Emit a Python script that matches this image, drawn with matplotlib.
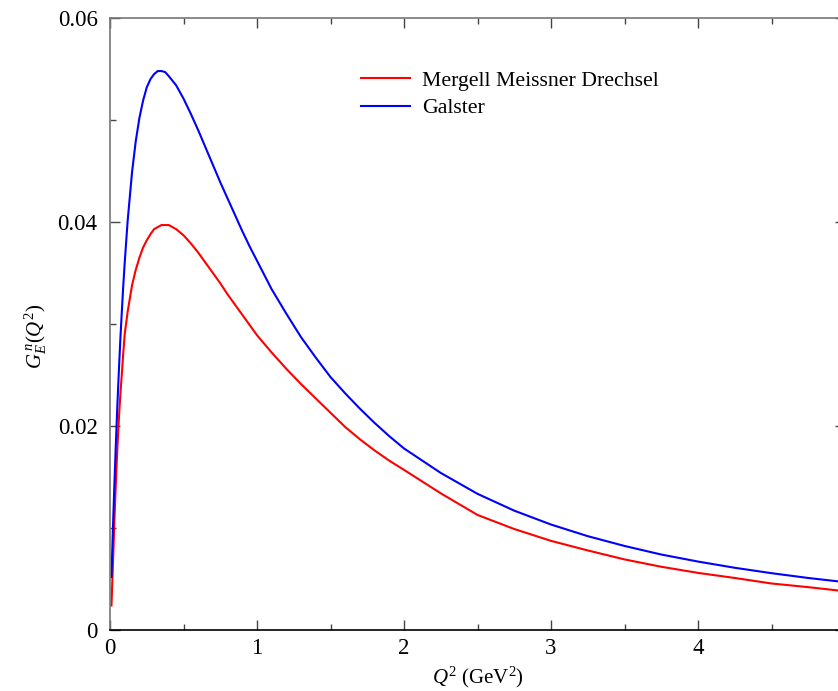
"""Neutron electric form factor G_E^n(Q^2): MMD vs Galster parametrisation."""
import matplotlib
matplotlib.use("Agg")
import matplotlib.pyplot as plt
from matplotlib.ticker import MultipleLocator

plt.rcParams["font.family"] = ["Liberation Serif", "DejaVu Serif"]
plt.rcParams["mathtext.fontset"] = "custom"
plt.rcParams["mathtext.rm"] = "Liberation Serif"
plt.rcParams["mathtext.it"] = "Liberation Serif:italic"

# values
q2 = [0.01, 0.02, 0.03, 0.04, 0.05, 0.06, 0.07, 0.08, 0.09, 0.1, 0.12,
      0.15, 0.175, 0.2, 0.225, 0.25, 0.275, 0.3, 0.325, 0.35, 0.375, 0.4,
      0.45, 0.5, 0.55, 0.6, 0.65, 0.7, 0.75, 0.8, 0.85, 0.9, 0.95, 1.0,
      1.1, 1.2, 1.3, 1.4, 1.5, 1.6, 1.7, 1.8, 1.9, 2.0, 2.25, 2.5, 2.75,
      3.0, 3.25, 3.5, 3.75, 4.0, 4.25, 4.5, 4.75, 5.0]
mmd = [0.0024, 0.0065, 0.0108, 0.0145, 0.0178, 0.0206, 0.0230, 0.0250,
       0.0271, 0.0290, 0.0312, 0.0338, 0.0353, 0.0365, 0.0375, 0.0382,
       0.0388, 0.0393, 0.0395, 0.0397, 0.0397, 0.0397, 0.0393, 0.0387,
       0.0379, 0.0370, 0.0360, 0.0350, 0.0340, 0.0329, 0.0319, 0.0309,
       0.0299, 0.0289, 0.0272, 0.0256, 0.0241, 0.0227, 0.0213, 0.0199,
       0.0187, 0.0176, 0.0166, 0.0157, 0.0134, 0.01128, 0.0099, 0.00874,
       0.0078, 0.00692, 0.0062, 0.0056, 0.0051, 0.00456, 0.0042, 0.0038]
galster = [0.0052, 0.0100, 0.0143, 0.0183, 0.0220, 0.0253, 0.0284, 0.0311,
           0.0337, 0.0360, 0.0401, 0.0449, 0.0479, 0.0502, 0.0519, 0.0532,
           0.0540, 0.0545, 0.0548, 0.0548, 0.0547, 0.0543, 0.0534, 0.0521,
           0.0506, 0.0490, 0.0473, 0.0456, 0.0439, 0.0423, 0.0407, 0.0391,
           0.0376, 0.0362, 0.0334, 0.0310, 0.0287, 0.0267, 0.0248, 0.0232,
           0.0217, 0.0203, 0.0190, 0.0178, 0.0154, 0.01335, 0.0117, 0.01034,
           0.0092, 0.00824, 0.0074, 0.00671, 0.0061, 0.00557, 0.0051,
           0.00469]

x_ticks = [0, 1, 2, 3, 4]
y_ticks = [0, 0.02, 0.04, 0.06]
y_tick_labels = ["0", "0.02", "0.04", "0.06"]

fig = plt.figure(figsize=(8.38, 6.91), dpi=100)
# axes runs slightly past the right edge, as in the cropped original
ax = fig.add_axes([110 / 838, 61 / 691, 735 / 838, 612 / 691])

ax.plot(q2, mmd, color="#ff0000", lw=1.5, label="Mergell Meissner Drechsel")
ax.plot(q2, galster, color="#0000ff", lw=1.5, label="Galster")

ax.set_xlim(0, 5)
ax.set_ylim(0, 0.06)
ax.set_xticks(x_ticks)
ax.set_xticklabels([str(v) for v in x_ticks])
ax.set_yticks(y_ticks)
ax.set_yticklabels(y_tick_labels)
ax.xaxis.set_minor_locator(MultipleLocator(0.5))
ax.yaxis.set_minor_locator(MultipleLocator(0.01))
ax.tick_params(which="both", direction="in", top=True, right=True,
               labelsize=16.5, color="#444444")
ax.tick_params(which="major", length=7, width=1)
ax.tick_params(which="minor", length=4, width=1)
ax.tick_params(axis="x", pad=6)
ax.tick_params(axis="y", pad=9)
for side in ("left", "top", "right"):
    ax.spines[side].set_color("#777777")
ax.spines["bottom"].set_color("black")
for s in ax.spines.values():
    s.set_linewidth(1.2)

ax.set_xlabel(r"$Q^2$ (GeV$^2$)", fontsize=15, labelpad=4)
ax.set_ylabel(r"$G_E^{\,n}(Q^2)$", fontsize=15, labelpad=6)
ax.yaxis.label.set_y(0.48)

ax.legend(loc="upper left", bbox_to_anchor=(0.341, 0.914), frameon=False,
          fontsize=15.7, handlelength=2.25, handletextpad=0.55,
          labelspacing=0.33, borderpad=0, borderaxespad=0)

fig.savefig("out.png", dpi=100)
